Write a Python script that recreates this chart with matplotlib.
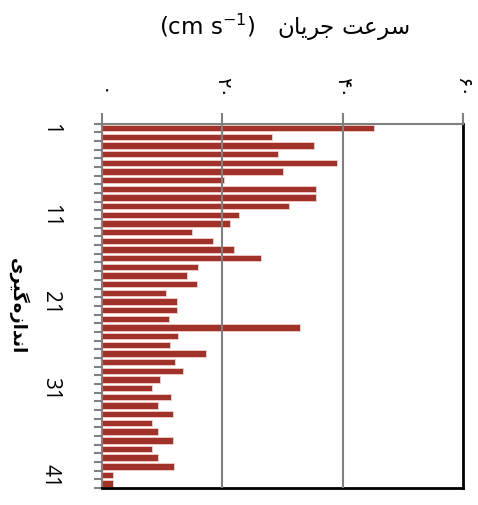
import matplotlib
matplotlib.use("Agg")
import matplotlib.pyplot as plt
import numpy as np

# current speed per measurement (cm/s)
measurements = list(range(1, 43))
speeds = [45.2, 28.2, 35.3, 29.2, 39.1, 30.1, 20.3, 35.5, 35.5, 31.0,
          22.7, 21.3, 15.0, 18.5, 21.9, 26.4, 15.9, 14.2, 15.8, 10.6,
          12.4, 12.4, 11.2, 32.9, 12.7, 11.3, 17.3, 12.2, 13.5, 9.7,
          8.3, 11.4, 9.3, 11.8, 8.3, 9.3, 11.8, 8.3, 9.3, 11.9,
          1.9, 1.9]
y_tick_vals = [1, 11, 21, 31, 41]
x_tick_vals = [0, 20, 40, 60]
x_tick_labels = ["\u06f0", "\u06f2\u06f0", "\u06f4\u06f0", "\u06f6\u06f0"]

# Persian text written in visual order with presentation forms
title_fa = "\ufee5\ufe8e\ufef3\ufeae\ufe9f \ufe96\ufecb\ufeae\ufeb3"   # سرعت جریان
ylabel_fa = "\ufeef\ufeae\ufef4\ufb94\ufee9\ufeaf\ufe8d\ufeaa\ufee7\ufe8d"  # اندازه‌گیری

fig = plt.figure(figsize=(4.78, 5.06), dpi=100)
ax = fig.add_axes([102 / 478, 17 / 506, 361 / 478, 364.3 / 506])

ax.barh(measurements, speeds, height=0.74, color="#a1322a",
        edgecolor="#f3cfc8", linewidth=0.6, zorder=2)

ax.set_xlim(0, 60)
ax.set_ylim(42.5, 0.5)

ax.xaxis.tick_top()
ax.set_xticks(x_tick_vals)
ax.set_xticklabels(x_tick_labels, rotation=-90, fontsize=14,
                   family=["DejaVu Sans"])
ax.tick_params(axis="x", direction="out", length=8, width=1.5,
               color="#808080", pad=11)

ax.set_yticks(np.arange(0.5, 43, 1.0))
ax.set_yticklabels([])
ax.tick_params(axis="y", which="major", direction="out", length=6,
               width=1.5, color="#808080")
for v in y_tick_vals:
    ax.text(-8.6, v, str(v), rotation=-90, ha="center", va="center",
            fontsize=15, family=["Open Sans", "DejaVu Sans"])

for gx in [20, 40]:
    ax.axvline(gx, color="#808080", lw=1.5, zorder=4)

ax.spines["left"].set_color("#808080")
ax.spines["left"].set_linewidth(1.5)
ax.spines["top"].set_color("#808080")
ax.spines["top"].set_linewidth(1.5)
ax.spines["right"].set_color("black")
ax.spines["right"].set_linewidth(2)
ax.spines["bottom"].set_color("black")
ax.spines["bottom"].set_linewidth(2)

fig.text(284 / 478, 1 - 27 / 506,
         "(cm s$^{\\mathregular{-1}}$)   " + title_fa,
         ha="center", va="center", fontsize=16.5)
fig.text(18 / 478, 1 - 306 / 506, ylabel_fa, rotation=-90,
         ha="center", va="center", fontsize=13, fontweight="bold",
         family=["DejaVu Sans"])

fig.savefig("out.png", dpi=100)
